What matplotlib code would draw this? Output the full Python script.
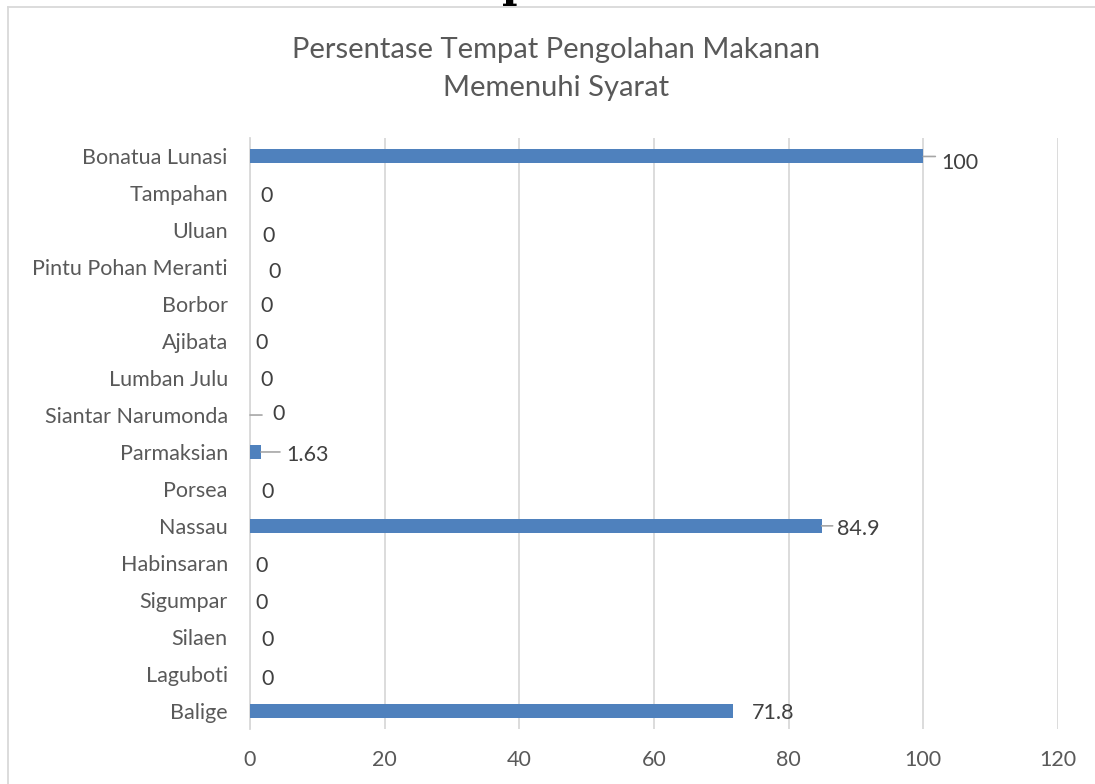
import matplotlib
matplotlib.use("Agg")
import matplotlib.pyplot as plt
from matplotlib.lines import Line2D

categories = ["Balige", "Laguboti", "Silaen", "Sigumpar", "Habinsaran", "Nassau",
              "Porsea", "Parmaksian", "Siantar Narumonda", "Lumban Julu", "Ajibata",
              "Borbor", "Pintu Pohan Meranti", "Uluan", "Tampahan", "Bonatua Lunasi"]
values = [71.8, 0, 0, 0, 0, 84.9, 0, 1.63, 0, 0, 0, 0, 0, 0, 0, 100]
labels = ["71.8", "0", "0", "0", "0", "84.9", "0", "1.63", "0", "0", "0", "0", "0", "0", "0", "100"]
xticks = [0, 20, 40, 60, 80, 100, 120]

# label offsets (pixels) from bar end (dy positive = down), leader line lengths (0 = none)
label_dx = [40, 18, 18, 12, 12, 37, 18, 47, 29, 17, 12, 17, 25, 19, 17, 37]
label_dy = [0, 3, 1, 1, 1, 1, 1, 1, -3, 0, 0, 0, 3, 4, 1, 5]
leader_len = [0, 0, 0, 0, 0, 11, 0, 19, 12, 0, 0, 0, 0, 0, 0, 12]

plt.rcParams['font.family'] = ['Lato', 'DejaVu Sans']
text_col = '#595959'
bar_col = '#4f81bd'
fs = 15.5

fig = plt.figure(figsize=(10.95, 7.84), dpi=100)
ax = fig.add_axes([250/1095, 1-729/784, (1058-250)/1095, 591/784])

ypos = list(range(len(categories)))
ax.barh(ypos, values, height=0.38, color=bar_col, zorder=3)
ax.set_xlim(0, 120)
ax.set_ylim(-0.5, len(categories) - 0.5)
ax.set_yticks(ypos)
ax.set_yticklabels(categories, fontsize=fs, color=text_col)
ax.set_xticks(xticks)
ax.set_xticklabels([str(t) for t in xticks], fontsize=fs, color=text_col)
ax.tick_params(axis='both', length=0)
ax.tick_params(axis='y', pad=16)
ax.tick_params(axis='x', pad=15)
ax.grid(axis='x', color='#d9d9d9', linewidth=1.3, zorder=0)
for s in ['top', 'right', 'bottom']:
    ax.spines[s].set_visible(False)
ax.spines['left'].set_color('#d9d9d9')
ax.spines['left'].set_linewidth(1.3)

px2pt = 72 / 100
for y, v, lab, dx, dy, ll in zip(ypos, values, labels, label_dx, label_dy, leader_len):
    ax.annotate(lab, xy=(v, y), xytext=(dx * px2pt, -dy * px2pt), textcoords='offset points',
                ha='center', va='center_baseline', fontsize=fs, color='#404040', zorder=4)
    if ll:
        ax.annotate('', xy=(v, y), xytext=(ll * px2pt, 0), textcoords='offset points',
                    arrowprops=dict(arrowstyle='-', color='#a6a6a6', lw=1.2,
                                    shrinkA=0, shrinkB=0), zorder=4)

fig.text(0.508, 1 - 50/784, "Persentase Tempat Pengolahan Makanan", ha='center', va='center',
         fontsize=21, color=text_col)
fig.text(0.508, 1 - 88/784, "Memenuhi Syarat", ha='center', va='center',
         fontsize=21, color=text_col)

# chart frame
fig.add_artist(Line2D([8/1095, 8/1095], [0, 1 - 7/784], transform=fig.transFigure,
                      color='#d9d9d9', lw=1.3))
fig.add_artist(Line2D([8/1095, 1], [1 - 7/784, 1 - 7/784], transform=fig.transFigure,
                      color='#d9d9d9', lw=1.3))
# cut-off glyph from text above the chart
fig.text(517/1095, 1 - 6/784, "p", ha='center', va='bottom', fontsize=30,
         fontweight='bold', family='DejaVu Serif', color='black')

fig.savefig("out.png", dpi=100)
